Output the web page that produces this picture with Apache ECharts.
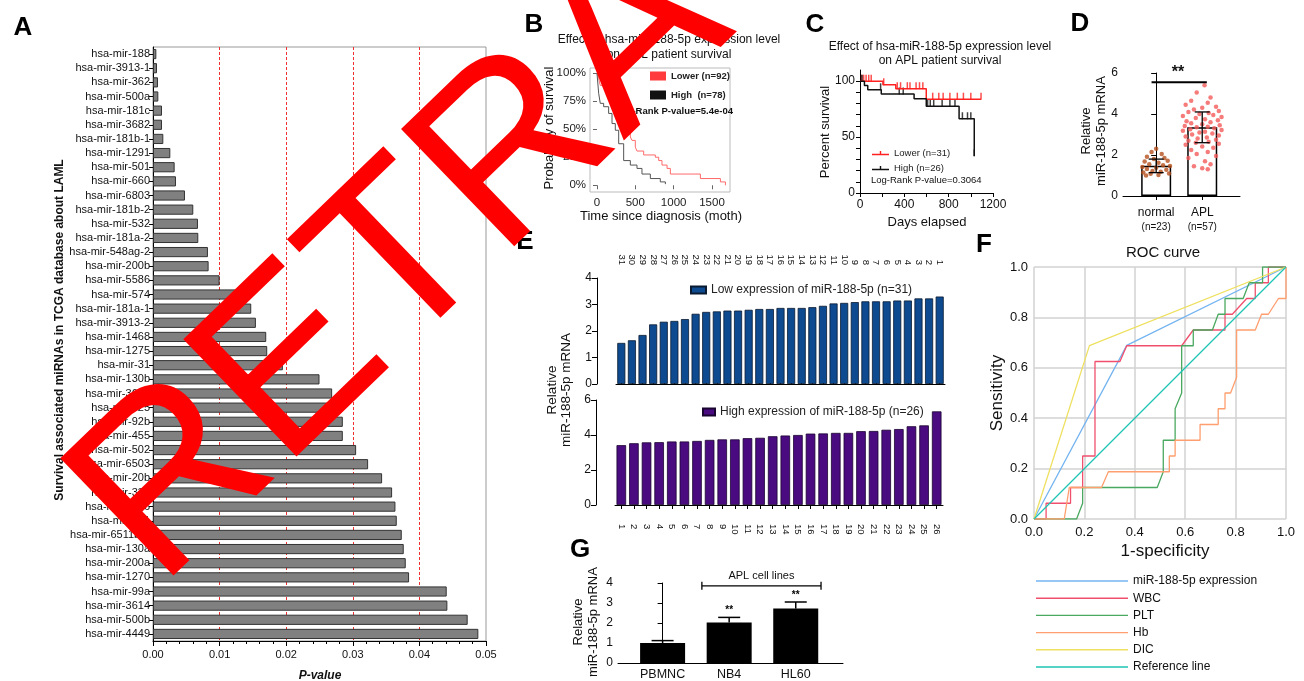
<!DOCTYPE html>
<html><head><meta charset="utf-8">
<script src="https://cdn.jsdelivr.net/npm/echarts@6/dist/echarts.min.js"></script>
<style>html,body{margin:0;padding:0;background:#fff}#c{width:1304px;height:681px}</style>
</head><body><div id="c"></div>
<script>
const FF = '"Liberation Sans", Arial, sans-serif';

// ---------- Panel A ----------
const mirNames = ['hsa-mir-188','hsa-mir-3913-1','hsa-mir-362','hsa-mir-500a','hsa-mir-181c','hsa-mir-3682','hsa-mir-181b-1','hsa-mir-1291','hsa-mir-501','hsa-mir-660','hsa-mir-6803','hsa-mir-181b-2','hsa-mir-532','hsa-mir-181a-2','hsa-mir-548ag-2','hsa-mir-200b','hsa-mir-5586','hsa-mir-574','hsa-mir-181a-1','hsa-mir-3913-2','hsa-mir-1468','hsa-mir-1275','hsa-mir-31','hsa-mir-130b','hsa-mir-3619','hsa-mir-625','hsa-mir-92b','hsa-mir-455','hsa-mir-502','hsa-mir-6503','hsa-mir-20b','hsa-mir-335','hsa-mir-1306','hsa-mir-491','hsa-mir-6511b-1','hsa-mir-130a','hsa-mir-200a','hsa-mir-1270','hsa-mir-99a','hsa-mir-3614','hsa-mir-500b','hsa-mir-4449'];
const mirPValues = [0.0005,0.0006,0.00075,0.0008,0.00135,0.00135,0.00155,0.0026,0.00325,0.00345,0.0048,0.00605,0.00675,0.0068,0.00825,0.00835,0.0100,0.0128,0.01475,0.01545,0.0170,0.01715,0.0195,0.0250,0.0269,0.0276,0.0285,0.0285,0.0305,0.0323,0.0344,0.0359,0.0364,0.0366,0.03735,0.03765,0.03795,0.03845,0.0441,0.0442,0.04725,0.04885];

// ---------- Panel B (Kaplan-Meier, AML) ----------
const bLowT = [0,22,43,109,152,174,196,217,270,370,391,435,457,500,522,609,761,805,848,914,957,1349,1610,1675];
const bLowS = [100,95,89,87,83,76,70,67,62,55,47.5,43,40,34,30.5,27,25,22,18,15,10,6,3,0];
const bHighT = [0,22,43,87,152,196,239,283,348,435,522,587,696,826,892];
const bHighS = [100,82,73,70,64,55,49,37,22,18,15,10,6,3,1];
const bTicksX = [0,500,1000,1500];
const bTicksY = [0,25,50,75,100];

// ---------- Panel C (Kaplan-Meier, APL) ----------
const cLowT = [0,207,323,598,1092];
const cLowS = [100,96.8,93.3,83.9,83.9];
const cLowCensT = [15,33,55,79,101,214,336,366,427,451,506,537,567,656,711,750,811,878,933,1000,1092];
const cLowCensS = [100,100,100,100,100,96.8,93.3,93.3,93.3,93.3,93.3,93.3,93.3,83.9,83.9,83.9,83.9,83.9,83.9,83.9,83.9];
const cHighT = [0,40,70,192,488,598,894,1031];
const cHighS = [100,96.2,92.3,88.5,84.4,77.5,66.4,33.2];
const cHighCensT = [18,186,354,390,610,634,665,741,811,857,924,970,1000,1031];
const cHighCensS = [100,92.3,88.5,88.5,77.5,77.5,77.5,77.5,77.5,77.5,66.4,66.4,66.4,33.2];

// ---------- Panel D ----------
const dGroups = ['normal','APL'];
const dGroupN = ['(n=23)','(n=57)'];
const dMeans = [1.47,3.35];
const dErrLo = [1.14,2.60];
const dErrHi = [1.80,4.10];
const dNormalVals = [2.30,2.15,2.05,1.92,1.85,1.80,1.72,1.68,1.62,1.55,1.50,1.46,1.42,1.38,1.32,1.28,1.22,1.18,1.15,1.10,1.08,1.03,1.00];
const dNormalJit = [0,-0.1,0.12,-0.2,0.18,-0.05,0.25,-0.25,0.05,-0.15,0.15,0.3,-0.3,0,-0.2,0.22,-0.08,0.1,-0.28,0.28,-0.12,0.05,-0.22];
const dAplVals = [5.40,5.05,4.80,4.65,4.55,4.45,4.35,4.30,4.22,4.15,4.10,4.05,4.00,3.95,3.90,3.85,3.80,3.75,3.70,3.65,3.60,3.55,3.50,3.45,3.42,3.38,3.35,3.30,3.26,3.22,3.18,3.14,3.10,3.05,3.00,2.95,2.90,2.85,2.80,2.75,2.70,2.65,2.60,2.55,2.50,2.42,2.35,2.25,2.15,2.05,1.95,1.85,1.70,1.55,1.45,1.35,1.30];
const dAplJit = [0.05,-0.12,0.18,-0.24,0.12,-0.36,0.3,0,-0.18,0.36,-0.3,0.14,-0.06,0.24,-0.42,0.42,-0.14,0.06,0.34,-0.34,0.18,-0.24,0,0.38,-0.38,0.12,-0.12,0.26,-0.26,0.42,-0.42,0.06,-0.06,0.22,-0.22,0.36,-0.36,0.1,-0.1,0.3,-0.3,0.14,-0.14,0.36,-0.36,0,0.24,-0.24,0.12,-0.12,0.3,-0.3,0.06,0.18,-0.18,0,0.12];
const dSigY = 5.55;

// ---------- Panel E ----------
const eLowCats = ['31','30','29','28','27','26','25','24','23','22','21','20','19','18','17','16','15','14','13','12','11','10','9','8','7','6','5','4','3','2','1'];
const eLowVals = [1.55,1.65,1.85,2.25,2.35,2.38,2.45,2.65,2.72,2.74,2.77,2.77,2.80,2.83,2.83,2.87,2.87,2.87,2.90,2.95,3.04,3.06,3.09,3.12,3.12,3.12,3.15,3.15,3.23,3.23,3.30];
const eHighCats = ['1','2','3','4','5','6','7','8','9','10','11','12','13','14','15','16','17','18','19','20','21','22','23','24','25','26'];
const eHighVals = [3.42,3.53,3.58,3.59,3.63,3.63,3.66,3.72,3.75,3.75,3.82,3.84,3.93,3.97,4.00,4.08,4.09,4.12,4.12,4.22,4.23,4.30,4.34,4.50,4.55,5.35];

// ---------- Panel F (ROC) ----------
const rocBlueX = [0,0.368,1], rocBlueY = [0,0.689,1];
const rocRedX = [0,0.048,0.048,0.145,0.145,0.193,0.193,0.242,0.242,0.341,0.368,0.586,0.632,0.758,0.758,0.787,0.844,0.878,0.878,0.930,0.930,1];
const rocRedY = [0,0,0.0625,0.0625,0.125,0.125,0.25,0.25,0.625,0.625,0.6875,0.6875,0.75,0.75,0.8125,0.8125,0.875,0.875,0.9375,0.9375,1,1];
const rocGreenX = [0,0.169,0.193,0.193,0.489,0.513,0.513,0.56,0.56,0.586,0.586,0.632,0.632,0.708,0.731,0.758,0.758,0.83,0.854,0.907,0.907,1];
const rocGreenY = [0,0,0.0625,0.125,0.125,0.1875,0.3125,0.3125,0.4375,0.5,0.6875,0.6875,0.75,0.75,0.8125,0.8125,0.875,0.875,0.9375,0.9375,1,1];
const rocOrangeX = [0,0.12,0.14,0.268,0.295,0.537,0.537,0.56,0.56,0.659,0.659,0.731,0.731,0.758,0.758,0.78,0.804,0.804,0.878,0.903,0.93,0.97,1,1];
const rocOrangeY = [0,0,0.125,0.125,0.1875,0.1875,0.25,0.25,0.3125,0.3125,0.375,0.375,0.4375,0.4375,0.5,0.5,0.5625,0.75,0.75,0.8125,0.8125,0.875,0.875,1];
const rocYellowX = [0,0.22,1], rocYellowY = [0,0.688,1];
const rocRefX = [0,1], rocRefY = [0,1];
const rocNames = ['miR-188-5p expression','WBC','PLT','Hb','DIC','Reference line'];
const rocColors = ['#74b4f0','#f0506e','#4aa860','#ff9e6e','#eee060','#1ec4b4'];

// ---------- Panel G ----------
const gCats = ['PBMNC','NB4','HL60'];
const gVals = [1.00,2.02,2.72];
const gErr = [1.12,2.28,3.05];
const gSig = ['','**','**'];
const gBracket = [0.59,2.38,3.86];

const zip = (a,b) => a.map((v,i)=>[v,b[i]]);

const txt = (x,y,text,font,opt={}) => Object.assign({type:'text', x, y, z:50,
  style:{text, font, fill: opt.fill||'#111', align: opt.align||'center', verticalAlign: opt.va||'middle'}}, opt.rot?{rotation:opt.rot}:{});

const errRender = (capW) => (params, api) => {
  const x = api.value(0), lo = api.value(1), hi = api.value(2);
  const a = api.coord([x,lo]), b = api.coord([x,hi]);
  return {type:'group', children:[
    {type:'line', shape:{x1:a[0],y1:a[1],x2:b[0],y2:b[1]}, style:{stroke:'#000',lineWidth:1.3}},
    {type:'line', shape:{x1:b[0]-capW/2,y1:b[1],x2:b[0]+capW/2,y2:b[1]}, style:{stroke:'#000',lineWidth:1.3}},
    {type:'line', shape:{x1:a[0]-capW/2,y1:a[1],x2:a[0]+capW/2,y2:a[1]}, style:{stroke:'#000',lineWidth:1.3}}
  ]};
};

const blackAxisLine = {show:true, lineStyle:{color:'#000', width:1}};
const blackTick = {show:true, lineStyle:{color:'#000'}};
const lineIcon = 'path://M0,0H92V1.4H0Z';

const option = {
  animation:false,
  backgroundColor:'#fff',
  textStyle:{fontFamily:FF},
  grid:[
    {left:153, top:47, width:333, height:594, show:true, borderColor:'#999', borderWidth:1},   // A
    {left:590, top:68, width:140, height:124, show:true, borderColor:'#bbb', borderWidth:1},   // B
    {left:860, top:70, width:133, height:123},   // C
    {left:1123, top:73, width:117, height:123},  // D
    {left:616, top:278, width:329, height:106},  // E top
    {left:615, top:400, width:328, height:105},  // E bottom
    {left:1034, top:267, width:252, height:252}, // F
    {left:618, top:583, width:225, height:80}    // G
  ],
  xAxis:[
    {gridIndex:0, type:'value', min:0, max:0.05, interval:0.01,
      axisLine:blackAxisLine, axisTick:{show:true, length:5, lineStyle:{color:'#000'}},
      minorTick:{show:true, splitNumber:5, length:3, lineStyle:{color:'#000'}},
      axisLabel:{fontSize:11, color:'#111', margin:8, formatter:v=>v.toFixed(2)},
      splitLine:{show:true, lineStyle:{type:[3,2], width:1, color:['rgba(0,0,0,0)','#f03030','#f03030','#f03030','#f03030','rgba(0,0,0,0)']}}},
    {gridIndex:1, type:'value', min:-91, max:1735,
      axisLine:{show:false}, axisTick:{show:true, customValues:bTicksX, length:4, lineStyle:{color:'#666'}},
      axisLabel:{customValues:bTicksX, fontSize:11.5, color:'#222', margin:5, formatter:v=>String(v)}, splitLine:{show:false}},
    {gridIndex:2, type:'value', min:0, max:1200,
      axisLine:blackAxisLine, axisTick:{show:true, customValues:[0,200,400,600,800,1000,1200], length:4, lineStyle:{color:'#000'}},
      axisLabel:{customValues:[0,400,800,1200], fontSize:12, color:'#111', margin:6, formatter:v=>String(v)}, splitLine:{show:false}},
    {gridIndex:3, type:'value', min:-0.72, max:1.82,
      axisLine:blackAxisLine, axisTick:{show:true, customValues:[0,1], length:4, lineStyle:{color:'#000'}},
      axisLabel:{customValues:[0,1], margin:9, lineHeight:15, formatter:v=>'{a|'+dGroups[Math.round(v)]+'}\n{b|'+dGroupN[Math.round(v)]+'}',
        rich:{a:{fontSize:12, color:'#111', fontFamily:FF}, b:{fontSize:10, color:'#111', fontFamily:FF}}},
      splitLine:{show:false}},
    {gridIndex:4, type:'category', data:eLowCats, position:'top', offset:10,
      axisLine:blackAxisLine, axisTick:{show:true, alignWithLabel:true, length:4, lineStyle:{color:'#000'}},
      axisLabel:{rotate:-90, fontSize:9.5, color:'#111', margin:3, interval:0}},
    {gridIndex:5, type:'category', data:eHighCats, position:'bottom', offset:16,
      axisLine:blackAxisLine, axisTick:{show:true, alignWithLabel:true, length:4, lineStyle:{color:'#000'}},
      axisLabel:{rotate:-90, fontSize:9.5, color:'#111', margin:3, interval:0}},
    {gridIndex:6, type:'value', min:0, max:1, interval:0.2,
      axisLine:{show:false}, axisTick:{show:false},
      axisLabel:{fontSize:13, color:'#111', margin:7, formatter:v=>v.toFixed(1)},
      splitLine:{show:true, lineStyle:{color:'#d2d2d2', width:1.5}}},
    {gridIndex:7, type:'value', min:-0.67, max:2.71,
      axisLine:blackAxisLine, axisTick:{show:false},
      axisLabel:{customValues:[0,1,2], fontSize:12.5, color:'#111', margin:5, formatter:v=>gCats[Math.round(v)]},
      splitLine:{show:false}}
  ],
  yAxis:[
    {gridIndex:0, type:'category', data:mirNames, inverse:true,
      axisLine:blackAxisLine, axisTick:{show:true, alignWithLabel:true, length:4, lineStyle:{color:'#000'}},
      axisLabel:{fontSize:11, color:'#111', margin:3, interval:0}},
    {gridIndex:1, type:'value', min:-6, max:104.5,
      axisLine:{show:false}, axisTick:{show:true, customValues:bTicksY, length:4, lineStyle:{color:'#666'}},
      axisLabel:{customValues:bTicksY, fontSize:11.5, color:'#222', margin:4, formatter:v=>v+'%'}, splitLine:{show:false}},
    {gridIndex:2, type:'value', min:0, max:110,
      axisLine:blackAxisLine, axisTick:{show:true, customValues:[0,10,20,30,40,50,60,70,80,90,100], length:4, lineStyle:{color:'#000'}},
      axisLabel:{customValues:[0,50,100], fontSize:12, color:'#111', margin:5}, splitLine:{show:false}},
    {gridIndex:3, type:'value', min:0, max:6, interval:2,
      axisLine:blackAxisLine, axisTick:blackTick, axisLabel:{fontSize:12, color:'#111', margin:5}, splitLine:{show:false}},
    {gridIndex:4, type:'value', min:0, max:4, interval:1, offset:19,
      axisLine:blackAxisLine, axisTick:blackTick, axisLabel:{fontSize:12, color:'#111', margin:5}, splitLine:{show:false}},
    {gridIndex:5, type:'value', min:0, max:6, interval:2, offset:19,
      axisLine:blackAxisLine, axisTick:blackTick, axisLabel:{fontSize:12, color:'#111', margin:5}, splitLine:{show:false}},
    {gridIndex:6, type:'value', min:0, max:1, interval:0.2,
      axisLine:{show:false}, axisTick:{show:false},
      axisLabel:{fontSize:13, color:'#111', margin:6, formatter:v=>v.toFixed(1)},
      splitLine:{show:true, lineStyle:{color:'#d2d2d2', width:1.5}}},
    {gridIndex:7, type:'value', min:0, max:4, interval:1,
      axisLine:blackAxisLine, axisTick:blackTick, axisLabel:{fontSize:12, color:'#111', margin:5}, splitLine:{show:false}}
  ],
  legend:[
    {data:['Lower (n=92)','High  (n=78)'], orient:'vertical', left:650, top:71, padding:0, icon:'rect', itemWidth:16, itemHeight:9, itemGap:9,
      selectedMode:false, textStyle:{fontSize:9.5, fontWeight:'bold', color:'#222', fontFamily:FF}},
    {data:[{name:'Lower (n=31)', icon:'path://M0,4H24V6H0Z M11,0H13V5H11Z'},{name:'High (n=26)', icon:'path://M0,4H24V6H0Z M11,0H13V5H11Z'}],
      orient:'vertical', left:872, top:147, padding:0, itemWidth:17, itemHeight:8, itemGap:3,
      selectedMode:false, textStyle:{fontSize:9.5, color:'#222', fontFamily:FF, lineHeight:12}},
    {data:['Low expression of miR-188-5p (n=31)'], left:690, top:284, padding:0, icon:'rect', itemWidth:15, itemHeight:7, selectedMode:false,
      textStyle:{fontSize:12, color:'#222', fontFamily:FF}},
    {data:['High expression of miR-188-5p (n=26)'], left:702, top:406, padding:0, icon:'rect', itemWidth:12, itemHeight:7, selectedMode:false,
      textStyle:{fontSize:12, color:'#222', fontFamily:FF}},
    {data:rocNames.map(n=>({name:n, icon:lineIcon})), orient:'vertical', left:1036, top:574, height:110, padding:0,
      itemWidth:92, itemHeight:2, itemGap:3.2, selectedMode:false,
      textStyle:{fontSize:12, color:'#111', fontFamily:FF, lineHeight:14}}
  ],
  series:[
    // A
    {type:'bar', xAxisIndex:0, yAxisIndex:0, data:mirPValues, barCategoryGap:'28%',
      itemStyle:{color:'#808080', borderColor:'#333', borderWidth:1}},
    // B
    {name:'Lower (n=92)', type:'line', xAxisIndex:1, yAxisIndex:1, step:'end', symbol:'none', data:zip(bLowT,bLowS),
      color:'#ff3b3b', lineStyle:{color:'#ff6a6a', width:1}},
    {name:'High  (n=78)', type:'line', xAxisIndex:1, yAxisIndex:1, step:'end', symbol:'none', data:zip(bHighT,bHighS),
      color:'#111', lineStyle:{color:'#555', width:1}},
    // C
    {name:'Lower (n=31)', type:'line', xAxisIndex:2, yAxisIndex:2, step:'end', symbol:'none', data:zip(cLowT,cLowS),
      color:'#ff2020', lineStyle:{color:'#ff2020', width:1.5}},
    {name:'cLowCens', type:'scatter', xAxisIndex:2, yAxisIndex:2, symbol:'rect', symbolSize:[1.5,7], symbolOffset:[0,-3],
      data:zip(cLowCensT,cLowCensS), itemStyle:{color:'#ff2020'}},
    {name:'High (n=26)', type:'line', xAxisIndex:2, yAxisIndex:2, step:'end', symbol:'none', data:zip(cHighT,cHighS),
      color:'#111', lineStyle:{color:'#111', width:1.5}},
    {name:'cHighCens', type:'scatter', xAxisIndex:2, yAxisIndex:2, symbol:'rect', symbolSize:[1.5,7], symbolOffset:[0,-3],
      data:zip(cHighCensT,cHighCensS), itemStyle:{color:'#111'}},
    // D
    {type:'bar', xAxisIndex:3, yAxisIndex:3, barWidth:30, data:zip([0,1],dMeans),
      itemStyle:{color:'#fff', borderColor:'#000', borderWidth:1.5}},
    {type:'scatter', xAxisIndex:3, yAxisIndex:3, symbolSize:4.5, data:dNormalVals.map((v,i)=>[dNormalJit[i],v]),
      itemStyle:{color:'#b5501e'}},
    {type:'scatter', xAxisIndex:3, yAxisIndex:3, symbolSize:4.5, data:dAplVals.map((v,i)=>[1+dAplJit[i],v]),
      itemStyle:{color:'#f45a5a'}},
    {type:'custom', xAxisIndex:3, yAxisIndex:3, renderItem:errRender(15), encode:{x:0,y:[1,2]},
      data:[0,1].map(i=>[i,dErrLo[i],dErrHi[i]]), z:5},
    {type:'line', xAxisIndex:3, yAxisIndex:3, symbol:'none', data:[[-0.1,dSigY],[1.1,dSigY]], lineStyle:{color:'#000', width:2}},
    // E
    {name:'Low expression of miR-188-5p (n=31)', type:'bar', xAxisIndex:4, yAxisIndex:4, data:eLowVals, barCategoryGap:'24%',
      itemStyle:{color:'#0e4a90', borderColor:'#0a1a30', borderWidth:0.8}},
    {name:'High expression of miR-188-5p (n=26)', type:'bar', xAxisIndex:5, yAxisIndex:5, data:eHighVals, barCategoryGap:'24%',
      itemStyle:{color:'#4a0a80', borderColor:'#1a0530', borderWidth:0.8}},
    // F
    {name:rocNames[0], type:'line', xAxisIndex:6, yAxisIndex:6, symbol:'none', data:zip(rocBlueX,rocBlueY), color:rocColors[0], lineStyle:{width:1.3}},
    {name:rocNames[1], type:'line', xAxisIndex:6, yAxisIndex:6, symbol:'none', data:zip(rocRedX,rocRedY), color:rocColors[1], lineStyle:{width:1.3}},
    {name:rocNames[2], type:'line', xAxisIndex:6, yAxisIndex:6, symbol:'none', data:zip(rocGreenX,rocGreenY), color:rocColors[2], lineStyle:{width:1.3}},
    {name:rocNames[3], type:'line', xAxisIndex:6, yAxisIndex:6, symbol:'none', data:zip(rocOrangeX,rocOrangeY), color:rocColors[3], lineStyle:{width:1.3}},
    {name:rocNames[4], type:'line', xAxisIndex:6, yAxisIndex:6, symbol:'none', data:zip(rocYellowX,rocYellowY), color:rocColors[4], lineStyle:{width:1.3}},
    {name:rocNames[5], type:'line', xAxisIndex:6, yAxisIndex:6, symbol:'none', data:zip(rocRefX,rocRefY), color:rocColors[5], lineStyle:{width:1.3}},
    // G
    {type:'bar', xAxisIndex:7, yAxisIndex:7, barWidth:45, data:zip([0,1,2],gVals), itemStyle:{color:'#000'}},
    {type:'custom', xAxisIndex:7, yAxisIndex:7, encode:{x:0,y:[1,2]}, data:[0,1,2].map(i=>[i,gVals[i],gErr[i]]), z:5,
      renderItem:(params, api) => {
        const x = api.value(0), hi = api.value(2);
        const a = api.coord([x,api.value(1)]), b = api.coord([x,hi]);
        const s = gSig[params.dataIndex];
        return {type:'group', children:[
          {type:'line', shape:{x1:a[0],y1:a[1],x2:b[0],y2:b[1]}, style:{stroke:'#000',lineWidth:1.5}},
          {type:'line', shape:{x1:b[0]-11,y1:b[1],x2:b[0]+11,y2:b[1]}, style:{stroke:'#000',lineWidth:1.5}},
          {type:'text', x:b[0], y:b[1]-7, style:{text:s, font:'bold 10px '+FF, fill:'#000', align:'center', verticalAlign:'middle'}}
        ]};
      }},
    {type:'custom', xAxisIndex:7, yAxisIndex:7, encode:{x:[0,1],y:2}, data:[gBracket], z:5,
      renderItem:(params, api) => {
        const p1 = api.coord([api.value(0), api.value(2)]), p2 = api.coord([api.value(1), api.value(2)]);
        return {type:'group', children:[
          {type:'line', shape:{x1:p1[0],y1:p1[1],x2:p2[0],y2:p2[1]}, style:{stroke:'#000',lineWidth:1.3}},
          {type:'line', shape:{x1:p1[0],y1:p1[1]-4,x2:p1[0],y2:p1[1]+4}, style:{stroke:'#000',lineWidth:1.3}},
          {type:'line', shape:{x1:p2[0],y1:p2[1]-4,x2:p2[0],y2:p2[1]+4}, style:{stroke:'#000',lineWidth:1.3}},
          {type:'text', x:(p1[0]+p2[0])/2, y:p1[1]-10, style:{text:'APL cell lines', font:'11px '+FF, fill:'#111', align:'center', verticalAlign:'middle'}}
        ]};
      }}
  ],
  graphic:[
    // panel letters
    txt(23,28,'A','bold 26px '+FF,{fill:'#000'}),
    txt(534,25,'B','bold 26px '+FF,{fill:'#000'}),
    txt(815,25,'C','bold 26px '+FF,{fill:'#000'}),
    txt(1080,24,'D','bold 26px '+FF,{fill:'#000'}),
    txt(525,242,'E','bold 26px '+FF,{fill:'#000'}),
    txt(984,245,'F','bold 26px '+FF,{fill:'#000'}),
    txt(580,550,'G','bold 26px '+FF,{fill:'#000'}),
    // A
    txt(60,330,'Survival associated miRNAs in TCGA database about LAML','bold 12px '+FF,{rot:Math.PI/2}),
    txt(320,676,'P-value','italic bold 12px '+FF),
    // B
    txt(669,40,'Effect of hsa-miR-188-5p expression level','12px '+FF),
    txt(669,55,'on AML patient survival','12px '+FF),
    txt(549,128,'Probability of survival','13px '+FF,{rot:Math.PI/2}),
    txt(661,216,'Time since diagnosis (moth)','13px '+FF),
    txt(615,111,'Log-Rank P-value=5.4e-04','bold 9.5px '+FF,{align:'left'}),
    // C
    txt(940,47,'Effect of hsa-miR-188-5p expression level','12px '+FF),
    txt(940,61,'on APL patient survival','12px '+FF),
    txt(825,132,'Percent survival','13px '+FF,{rot:Math.PI/2}),
    txt(927,222,'Days elapsed','13px '+FF),
    txt(871,180,'Log-Rank P-value=0.3064','9.5px '+FF,{align:'left'}),
    // D
    txt(1086,131,'Relative','13px '+FF,{rot:Math.PI/2}),
    txt(1101,131,'miR-188-5p mRNA','13px '+FF,{rot:Math.PI/2}),
    txt(1178,73,'**','bold 16px '+FF),
    // E
    txt(552,390,'Relative','13.5px '+FF,{rot:Math.PI/2}),
    txt(566,390,'miR-188-5p mRNA','13.5px '+FF,{rot:Math.PI/2}),
    // F
    txt(1163,253,'ROC curve','15px '+FF),
    txt(1165,551,'1-specificity','17px '+FF),
    txt(997,393,'Sensitivity','17px '+FF,{rot:Math.PI/2}),
    // G
    txt(578,622,'Relative','13px '+FF,{rot:Math.PI/2}),
    txt(593,622,'miR-188-5p mRNA','13px '+FF,{rot:Math.PI/2}),
    // watermark
    {type:'text', x:114, y:542, rotation:44*Math.PI/180, z:100,
      style:{text:'RETRACTED', font:'237px '+FF, fill:'#ff0000', align:'left', verticalAlign:'middle'}}
  ]
};

const chart = echarts.init(document.getElementById('c'));
chart.setOption(option);
</script>
</body></html>
